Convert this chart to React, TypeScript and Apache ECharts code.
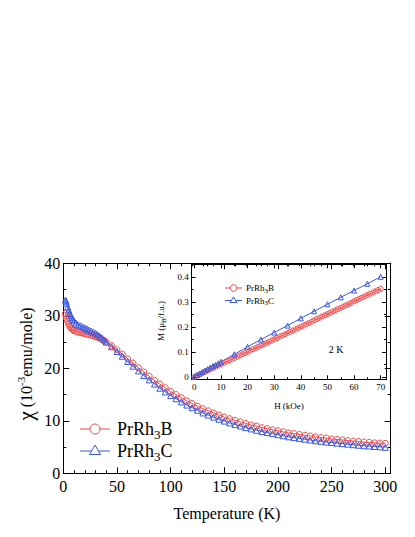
import React, { useEffect, useRef } from 'react';
import * as echarts from 'echarts';

const RED = '#f04848';
const BLUE = '#3a5ae0';
const FONT = '"Liberation Serif", "Times New Roman", serif';

// Main panel: susceptibility vs temperature
const T_K = [2, 2.5, 3, 4, 5, 6, 7, 8, 9, 10, 12, 14, 16, 18, 20, 22, 24, 26, 28, 30, 32, 34, 36, 38, 40,
  45, 50, 55, 60, 65, 70, 75, 80, 85, 90, 95, 100, 105, 110, 115, 120, 125, 130, 135, 140, 145, 150,
  155, 160, 165, 170, 175, 180, 185, 190, 195, 200, 205, 210, 215, 220, 225, 230, 235, 240, 245, 250,
  255, 260, 265, 270, 275, 280, 285, 290, 295, 300];
const CHI_B = [30.4, 30.0, 29.5, 28.9, 28.4, 28.0, 27.7, 27.5, 27.3, 27.2, 27.0, 26.9, 26.8, 26.7, 26.6, 26.5, 26.4, 26.3, 26.2, 26.0, 25.9, 25.7, 25.5, 25.3, 25.0,
  24.3, 23.5, 22.7, 21.8, 21.0, 20.1, 19.3, 18.5, 17.7, 17.0, 16.3, 15.6, 15.0, 14.4, 13.8, 13.3, 12.8, 12.3, 11.9, 11.5, 11.1, 10.7,
  10.4, 10.1, 9.8, 9.5, 9.2, 9.0, 8.7, 8.5, 8.3, 8.1, 7.9, 7.7, 7.55, 7.4, 7.25, 7.1, 6.95, 6.8, 6.7, 6.55,
  6.45, 6.35, 6.25, 6.15, 6.05, 5.95, 5.9, 5.8, 5.75, 5.7];
const CHI_C = [33.0, 32.8, 32.4, 31.7, 31.1, 30.5, 30.0, 29.6, 29.3, 29.0, 28.6, 28.3, 28.1, 27.9, 27.7, 27.5, 27.3, 27.1, 26.9, 26.7, 26.4, 26.1, 25.8, 25.4, 25.0,
  24.1, 23.2, 22.3, 21.3, 20.4, 19.5, 18.6, 17.8, 17.0, 16.2, 15.5, 14.8, 14.2, 13.6, 13.0, 12.5, 12.0, 11.5, 11.1, 10.7, 10.3, 9.95,
  9.6, 9.3, 9.0, 8.7, 8.45, 8.2, 7.95, 7.75, 7.55, 7.35, 7.15, 6.95, 6.8, 6.65, 6.5, 6.35, 6.2, 6.1, 5.95, 5.85,
  5.75, 5.65, 5.55, 5.45, 5.35, 5.25, 5.2, 5.1, 5.05, 4.95];

// Inset: magnetization vs field at 2 K
const H_B = [0, 1, 2, 3, 4, 5, 6, 7, 8, 9, 10, 11, 12, 13, 14, 15, 16, 17, 18, 19, 20, 21, 22, 23, 24, 25, 26, 27, 28, 29, 30,
  31, 32, 33, 34, 35, 36, 37, 38, 39, 40, 41, 42, 43, 44, 45, 46, 47, 48, 49, 50, 51, 52, 53, 54, 55, 56, 57, 58, 59, 60,
  61, 62, 63, 64, 65, 66, 67, 68, 69, 70];
const M_B = [0.000, 0.005, 0.010, 0.015, 0.020, 0.025, 0.030, 0.035, 0.040, 0.045, 0.050, 0.055, 0.060, 0.065, 0.070, 0.075,
  0.080, 0.085, 0.090, 0.095, 0.100, 0.105, 0.110, 0.115, 0.120, 0.125, 0.130, 0.135, 0.140, 0.145, 0.150,
  0.155, 0.160, 0.165, 0.170, 0.175, 0.180, 0.185, 0.190, 0.195, 0.200, 0.205, 0.210, 0.215, 0.220, 0.226,
  0.231, 0.236, 0.241, 0.246, 0.251, 0.256, 0.261, 0.266, 0.271, 0.276, 0.281, 0.286, 0.291, 0.296, 0.302,
  0.307, 0.312, 0.317, 0.322, 0.327, 0.332, 0.337, 0.342, 0.347, 0.352];
const H_C = [0, 1, 2, 3, 4, 5, 6, 7, 8, 9, 10, 15, 20, 25, 30, 35, 40, 45, 50, 55, 60, 65, 70];
const M_C = [0, 0.007, 0.013, 0.019, 0.025, 0.031, 0.037, 0.043, 0.048, 0.054, 0.060, 0.090, 0.120, 0.149, 0.177,
  0.205, 0.234, 0.262, 0.290, 0.318, 0.345, 0.372, 0.400];

// Tick values
const MAIN_X_TICKS = [0, 50, 100, 150, 200, 250, 300];
const MAIN_X_MINOR = [0, 10, 20, 30, 40, 50, 60, 70, 80, 90, 100, 110, 120, 130, 140, 150, 160, 170, 180, 190, 200,
  210, 220, 230, 240, 250, 260, 270, 280, 290, 300];
const MAIN_Y_TICKS = [0, 10, 20, 30, 40];
const MAIN_Y_MINOR = [5, 15, 25, 35];
const INSET_X_TICKS = [0, 10, 20, 30, 40, 50, 60, 70];
const INSET_X_MINOR = [5, 15, 25, 35, 45, 55, 65];
const INSET_Y_TICKS = [0, 0.1, 0.2, 0.3, 0.4];
const INSET_Y_MINOR = [0.05, 0.15, 0.25, 0.35];

function axis(gridIndex: number, min: number, max: number, position: string, ticks: number[], len: number, label?: any) {
  return {
    type: 'value',
    gridIndex,
    min,
    max,
    position,
    splitLine: { show: false },
    minorTick: { show: false },
    axisLine: { show: true, onZero: false, lineStyle: { color: '#000', width: 1 } },
    axisTick: { show: true, inside: true, length: len, customValues: ticks, lineStyle: { color: '#000', width: 1 } },
    axisLabel: label
      ? { show: true, customValues: ticks, fontFamily: FONT, color: '#000', ...label }
      : { show: false },
  };
}

const zip = (a: number[], b: number[]) => a.map((v, i) => [v, b[i]]);

export default function App() {
  const ref = useRef<HTMLDivElement>(null);
  useEffect(() => {
    if (!ref.current) return;
    const chart = echarts.init(ref.current, null, { renderer: 'svg' });
    const mainLbl = { fontSize: 16 };
    const insetLbl = { fontSize: 9 };
    const subRich = (fs: number, lh: number) => ({
      sub: { fontSize: fs, fontFamily: FONT, fill: '#000', verticalAlign: 'bottom', lineHeight: lh },
    });
    const legendText = (x: number, y: number, text: string, fs: number, sfs: number, lh: number) => ({
      type: 'text', x, y, z: 100,
      style: {
        text, fontSize: fs, fontFamily: FONT, fill: '#000', lineHeight: lh,
        align: 'left', textAlign: 'left', verticalAlign: 'middle', textVerticalAlign: 'middle',
        rich: subRich(sfs, lh),
      },
    });
    chart.setOption({
      animation: false,
      backgroundColor: '#fff',
      grid: [
        { left: 63.3, top: 263.3, width: 327.4, height: 210, containLabel: false },
        { left: 191.7, top: 264.3, width: 194.3, height: 115, containLabel: false },
      ],
      xAxis: [
        axis(0, 0, 305, 'bottom', MAIN_X_TICKS, 6, { ...mainLbl, margin: 5 }),
        axis(0, 0, 305, 'bottom', MAIN_X_MINOR, 3),
        axis(0, 0, 305, 'top', MAIN_X_TICKS, 6),
        axis(0, 0, 305, 'top', MAIN_X_MINOR, 3),
        axis(1, -1, 72, 'bottom', INSET_X_TICKS, 4, { ...insetLbl, margin: 3 }),
        axis(1, -1, 72, 'bottom', INSET_X_MINOR, 2),
        axis(1, -1, 72, 'top', INSET_X_TICKS, 4),
        axis(1, -1, 72, 'top', INSET_X_MINOR, 2),
      ],
      yAxis: [
        axis(0, 0, 40, 'left', MAIN_Y_TICKS, 6, { ...mainLbl, margin: 3 }),
        axis(0, 0, 40, 'left', MAIN_Y_MINOR, 3),
        axis(0, 0, 40, 'right', MAIN_Y_TICKS, 6),
        axis(0, 0, 40, 'right', MAIN_Y_MINOR, 3),
        axis(1, -0.01, 0.45, 'left', INSET_Y_TICKS, 4, { ...insetLbl, margin: 3 }),
        axis(1, -0.01, 0.45, 'left', INSET_Y_MINOR, 2),
        axis(1, -0.01, 0.45, 'right', INSET_Y_TICKS, 4),
        axis(1, -0.01, 0.45, 'right', INSET_Y_MINOR, 2),
      ],
      series: [
        {
          type: 'line', name: 'PrRh3B', xAxisIndex: 0, yAxisIndex: 0, data: zip(T_K, CHI_B),
          symbol: 'circle', symbolSize: 6, showAllSymbol: true,
          itemStyle: { color: 'rgba(255,255,255,0)', borderColor: RED, borderWidth: 1 },
          lineStyle: { color: RED, width: 1 },
        },
        {
          type: 'line', name: 'PrRh3C', xAxisIndex: 0, yAxisIndex: 0, data: zip(T_K, CHI_C),
          symbol: 'triangle', symbolSize: 6, showAllSymbol: true,
          itemStyle: { color: 'rgba(255,255,255,0)', borderColor: BLUE, borderWidth: 1 },
          lineStyle: { color: BLUE, width: 1 },
        },
        {
          type: 'line', name: 'PrRh3B inset', xAxisIndex: 4, yAxisIndex: 4, data: zip(H_B, M_B),
          symbol: 'circle', symbolSize: 5, showAllSymbol: true,
          itemStyle: { color: 'rgba(255,255,255,0)', borderColor: RED, borderWidth: 1 },
          lineStyle: { color: RED, width: 1 },
        },
        {
          type: 'line', name: 'PrRh3C inset', xAxisIndex: 4, yAxisIndex: 4, data: zip(H_C, M_C),
          symbol: 'triangle', symbolSize: 5, showAllSymbol: true,
          itemStyle: { color: 'rgba(255,255,255,0)', borderColor: BLUE, borderWidth: 1 },
          lineStyle: { color: BLUE, width: 1 },
        },
      ],
      graphic: [
        // main axis titles
        {
          type: 'text', x: 227, y: 513, z: 100,
          style: {
            text: 'Temperature (K)', fontSize: 16, fontFamily: FONT, fill: '#000',
            align: 'center', textAlign: 'center', verticalAlign: 'middle', textVerticalAlign: 'middle',
          },
        },
        {
          type: 'text', x: 26, y: 364, rotation: Math.PI / 2, z: 100,
          style: {
            text: '{chi|χ} (10{sup|-3}emu/mole)', fontSize: 16, fontFamily: FONT, fill: '#000', lineHeight: 22,
            align: 'center', textAlign: 'center', verticalAlign: 'middle', textVerticalAlign: 'middle',
            rich: {
              chi: { fontSize: 21, fontFamily: FONT, fill: '#000', lineHeight: 22 },
              sup: { fontSize: 11, fontFamily: FONT, fill: '#000', verticalAlign: 'top', lineHeight: 22 },
            },
          },
        },
        // main legend
        { type: 'line', z: 100, shape: { x1: 80, y1: 429, x2: 110, y2: 429 }, style: { stroke: RED, lineWidth: 1 } },
        { type: 'circle', z: 101, shape: { cx: 95, cy: 429, r: 5 }, style: { fill: '#fff', stroke: RED, lineWidth: 1 } },
        legendText(117, 429, 'PrRh{sub|3}B', 18, 13, 24),
        { type: 'line', z: 100, shape: { x1: 80, y1: 451, x2: 110, y2: 451 }, style: { stroke: BLUE, lineWidth: 1 } },
        { type: 'polygon', z: 101, shape: { points: [[95, 445], [100.5, 454.5], [89.5, 454.5]] }, style: { fill: '#fff', stroke: BLUE, lineWidth: 1 } },
        legendText(117, 451, 'PrRh{sub|3}C', 18, 13, 24),
        // inset titles
        {
          type: 'text', x: 289, y: 406, z: 100,
          style: {
            text: 'H (kOe)', fontSize: 9, fontFamily: FONT, fill: '#000',
            align: 'center', textAlign: 'center', verticalAlign: 'middle', textVerticalAlign: 'middle',
          },
        },
        {
          type: 'text', x: 161, y: 321, rotation: Math.PI / 2, z: 100,
          style: {
            text: 'M (μ{sub|B}/f.u.)', fontSize: 9, fontFamily: FONT, fill: '#000', lineHeight: 12,
            align: 'center', textAlign: 'center', verticalAlign: 'middle', textVerticalAlign: 'middle',
            rich: subRich(7, 12),
          },
        },
        {
          type: 'text', x: 336, y: 349, z: 100,
          style: {
            text: '2 K', fontSize: 10, fontFamily: FONT, fill: '#000',
            align: 'center', textAlign: 'center', verticalAlign: 'middle', textVerticalAlign: 'middle',
          },
        },
        // inset legend
        { type: 'line', z: 100, shape: { x1: 225, y1: 288, x2: 242, y2: 288 }, style: { stroke: RED, lineWidth: 1 } },
        { type: 'circle', z: 101, shape: { cx: 233.5, cy: 288, r: 3.3 }, style: { fill: '#fff', stroke: RED, lineWidth: 1 } },
        legendText(246, 288, 'PrRh{sub|3}B', 9, 7, 12),
        { type: 'line', z: 100, shape: { x1: 225, y1: 300.5, x2: 242, y2: 300.5 }, style: { stroke: BLUE, lineWidth: 1 } },
        { type: 'polygon', z: 101, shape: { points: [[233.5, 297], [237, 302.5], [230, 302.5]] }, style: { fill: '#fff', stroke: BLUE, lineWidth: 1 } },
        legendText(246, 300.5, 'PrRh{sub|3}C', 9, 7, 12),
      ],
    });
    return () => chart.dispose();
  }, []);
  return <div ref={ref} style={{ position: 'fixed', left: 0, top: 0, width: 415, height: 537 }} />;
}
